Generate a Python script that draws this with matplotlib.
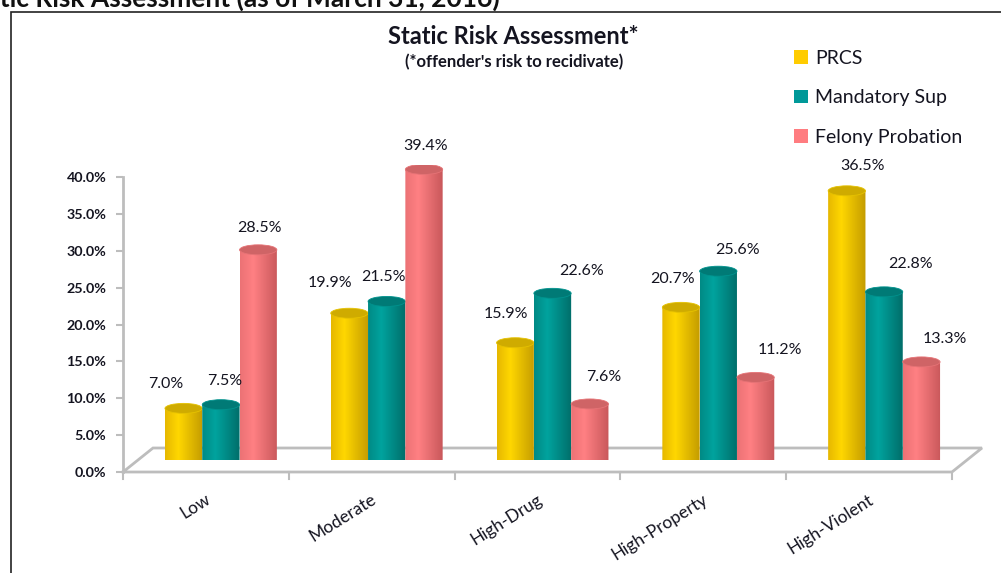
import numpy as np
import matplotlib
matplotlib.use("Agg")
import matplotlib.pyplot as plt
from matplotlib.patches import Ellipse, Patch, PathPatch, Rectangle
from matplotlib.path import Path
from matplotlib.colors import to_rgb

# risk levels and share of each supervision population (percent)
categories = ["Low", "Moderate", "High-Drug", "High-Property", "High-Violent"]
series_names = ["PRCS", "Mandatory Sup", "Felony Probation"]
prcs = [7.0, 19.9, 15.9, 20.7, 36.5]
mandatory_sup = [7.5, 21.5, 22.6, 25.6, 22.8]
felony_probation = [28.5, 39.4, 7.6, 11.2, 13.3]
y_ticks = [0, 5, 10, 15, 20, 25, 30, 35, 40]

# body shading per series: left edge, highlight, right edge, top cap
palette = {
    "PRCS": ("#e6b800", "#ffd700", "#c49c00", "#cfab00"),
    "Mandatory Sup": ("#008a85", "#00a39e", "#006e6a", "#007a76"),
    "Felony Probation": ("#ec7275", "#ff8083", "#c9585b", "#cf6466"),
}
legend_colors = ["#ffcc00", "#009999", "#ff7c80"]

# label nudges in pixels (dx, dy above bar top), by category then series
label_offsets = [
    [(-18, 24), (4, 24), (1, 22)],
    [(-19, 30), (-3, 24), (2, 23)],
    [(-9, 29), (29, 22), (14, 27)],
    [(-8, 28), (19, 21), (24, 27)],
    [(16, 25), (26, 28), (23, 23)],
]

W, H = 1001, 573
fig = plt.figure(figsize=(W / 100, H / 100), dpi=100)
plt.rcParams["font.family"] = ["Lato", "DejaVu Sans"]
text_color = "#141420"
axis_gray = "#bdbdbd"


def fig_box(left, top, right, bottom):
    return [left / W, 1 - bottom / H, (right - left) / W, (bottom - top) / H]


# outer frame of the chart object
fig.patches.append(Rectangle((11 / W, -0.1), 1.2, 1 - 12 / H + 0.1,
                             transform=fig.transFigure, fill=False,
                             edgecolor="#222222", linewidth=1.2))

# heading of the page section, running off the top edge
fig.text(500 / W, 1 - 7 / H, "Static Risk Assessment (as of March 31, 2016)",
         ha="right", va="baseline", fontsize=19, fontweight="bold", color="#111111")

# front axes: value axis and floor outline
ax = fig.add_axes(fig_box(123, 177, 952, 472))
ax.set_xlim(0, 5)
ax.set_ylim(0, 40)
ax.patch.set_alpha(0)
for side in ["top", "right", "bottom"]:
    ax.spines[side].set_visible(False)
ax.spines["left"].set_color(axis_gray)
ax.spines["left"].set_linewidth(2)
ax.set_yticks(y_ticks)
ax.set_yticklabels([f"{t:.1f}%" for t in y_ticks])
ax.tick_params(axis="y", length=5, width=1.5, color=axis_gray, pad=7,
               labelsize=10.3, labelcolor=text_color)
for lbl in ax.get_yticklabels():
    lbl.set_fontweight("bold")
ax.set_xticks([])

depth = np.array([30, 24]) / np.array([829, 295]) * np.array([5, 40])
floor_x = [0, 5, 5 + depth[0], depth[0], 0]
floor_y = [0, 0, depth[1], depth[1], 0]
ax.plot(floor_x, floor_y, color=axis_gray, lw=2, clip_on=False, solid_joinstyle="miter")
for k in range(6):
    ax.plot([k, k], [0, -0.9], color=axis_gray, lw=1.5, clip_on=False)

for k, name in enumerate(categories):
    ax.annotate(name, (k + 0.5, 0), xytext=(3, -26), textcoords="offset pixels",
                rotation=32, rotation_mode="anchor", ha="right", va="center",
                fontsize=12.5, color=text_color, annotation_clip=False)

# bar axes sit half way into the floor depth
bx = fig.add_axes(fig_box(138, 165, 967, 460))
bx.set_xlim(0, 5)
bx.set_ylim(0, 40)
bx.axis("off")

bar_w = 0.225
cap_h = 10 / 295 * 40
series = [prcs, mandatory_sup, felony_probation]
xs = np.linspace(0, 1, 64)
profile = np.interp(xs, [0, 0.35, 1], [0, 1, 2])

for k in range(len(categories)):
    for i, (name, vals) in enumerate(zip(series_names, series)):
        v = vals[k]
        xc = k + 0.5 + (i - 1) * bar_w
        x0, x1 = xc - bar_w / 2, xc + bar_w / 2
        left_c, hi_c, right_c, top_c = [np.array(to_rgb(c)) for c in palette[name]]
        row = np.array([left_c + (hi_c - left_c) * p if p <= 1 else hi_c + (right_c - hi_c) * (p - 1)
                        for p in profile])
        # outline: straight sides with a rounded bottom
        t = np.linspace(np.pi, 2 * np.pi, 40)
        arc = np.column_stack([xc + bar_w / 2 * np.cos(t), cap_h / 2 * np.sin(t)])
        verts = np.vstack([[x0, v], [x0, 0], arc, [x1, 0], [x1, v], [x0, v]])
        codes = [Path.MOVETO] + [Path.LINETO] * (len(verts) - 2) + [Path.CLOSEPOLY]
        outline = PathPatch(Path(verts, codes), facecolor="none", edgecolor="none")
        bx.add_patch(outline)
        img = bx.imshow(row[np.newaxis, :, :], extent=(x0, x1, -cap_h / 2, v),
                        aspect="auto", interpolation="bilinear", zorder=2 + k * 3 + i)
        img.set_clip_path(outline)
        bx.add_patch(Ellipse((xc, v), bar_w, cap_h, facecolor=top_c, edgecolor=hi_c * 0.9,
                             linewidth=0.6, zorder=2.5 + k * 3 + i))
        dx, dy = label_offsets[k][i]
        bx.annotate(f"{v:.1f}%", (xc, v), xytext=(dx, dy), textcoords="offset pixels",
                    ha="center", va="center", fontsize=11.5, color=text_color,
                    annotation_clip=False, zorder=50)

bx.set_xlim(0, 5)
bx.set_ylim(0, 40)

# chart title
fig.text(513 / W, 1 - 36 / H, "Static Risk Assessment*", ha="center", va="center",
         fontsize=17, fontweight="bold", color=text_color)
fig.text(514 / W, 1 - 62 / H, "(*offender's risk to recidivate)", ha="center", va="center",
         fontsize=12, fontweight="bold", color=text_color)

handles = [Patch(facecolor=c, edgecolor="none") for c in legend_colors]
fig.legend(handles, series_names, loc="upper left", bbox_to_anchor=(794 / W, 1 - 50 / H),
           frameon=False, fontsize=14, handlelength=0.7, handleheight=0.7,
           handletextpad=0.4, labelspacing=1.15, borderaxespad=0, borderpad=0,
           labelcolor=text_color)

fig.savefig("out.png", dpi=100)
